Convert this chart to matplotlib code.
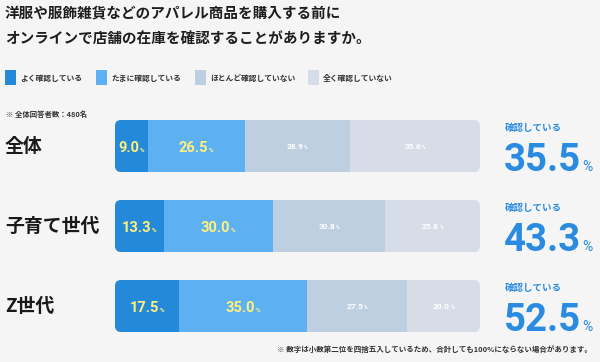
import matplotlib
matplotlib.use('Agg')
import matplotlib.pyplot as plt
from matplotlib.patches import FancyBboxPatch, Rectangle

# データ
groups = ['全体', '子育て世代', 'Z世代']
categories = ['よく確認している', 'たまに確認している', 'ほとんど確認していない', '全く確認していない']
often = [9.0, 13.3, 17.5]
sometimes = [26.5, 30.0, 35.0]
rarely = [28.9, 30.8, 27.5]
never = [35.6, 25.8, 20.0]
series = [often, sometimes, rarely, never]
colors = ['#2589da', '#5db1f3', '#bfcfe2', '#d6dde7']

title = '洋服や服飾雑貨などのアパレル商品を購入する前に\nオンラインで店舗の在庫を確認することがありますか。'
note_top = '※ 全体回答者数：480名'
note_bottom = '※ 数字は小数第二位を四捨五入しているため、合計しても100%にならない場合があります。'

W, H = 600, 362
BG = '#f5f5f5'
BLUE = '#2a8be0'
YELLOW = '#fdf07c'
JP = ['Noto Sans CJK JP', 'DejaVu Sans']
NUM = ['Roboto', 'Noto Sans CJK JP']

fig = plt.figure(figsize=(6, 3.62), dpi=100, facecolor=BG)
renderer = fig.canvas.get_renderer()


def px(x, y):
    return x / W, 1 - y / H


def text_width(s, **kw):
    t = fig.text(0, 0, s, **kw)
    w = t.get_window_extent(renderer).width
    t.remove()
    return w


# タイトル
fig.text(*px(5, 26), title, fontsize=10.5, fontweight='bold', family=JP,
         color='#1e1e1e', va='center', ha='left', linespacing=1.8)

# 凡例
leg_x = [5, 96, 195, 308]
for x, lab, c in zip(leg_x, categories, colors):
    fig.patches.append(Rectangle(px(x, 85), 11 / W, 15 / H, transform=fig.transFigure,
                                 facecolor=c, edgecolor='none'))
    fig.text(*px(x + 15, 78), lab, fontsize=5.6, fontweight='bold', family=JP,
             color='#333333', va='center', ha='left')

fig.text(*px(6, 114), note_top, fontsize=5.3, fontweight='bold', family=JP,
         color='#333333', va='center', ha='left')
fig.text(*px(592, 349), note_bottom, fontsize=5.4, fontweight='bold', family=JP,
         color='#333333', va='center', ha='right')

# 棒グラフ
ax = fig.add_axes([115 / W, (H - 346) / H, 365 / W, 240 / H])
ax.set_xlim(0, 100)
ax.set_ylim(2.5, -0.5)
ax.axis('off')
ax.patch.set_alpha(0)

bar_h = 0.65
ux = 100 / 365  # x単位/px
uy = 1 / 80     # y単位/px
clips = []
for i in range(len(groups)):
    p = FancyBboxPatch((0, i - bar_h / 2), 100, bar_h,
                       boxstyle='round,pad=0,rounding_size=%.3f' % (6 * ux),
                       mutation_aspect=uy / ux, transform=ax.transData,
                       facecolor='none', edgecolor='none')
    ax.add_patch(p)
    clips.append(p)

lefts = [0.0] * len(groups)
for k, (vals, c) in enumerate(zip(series, colors)):
    bars = ax.barh(range(len(groups)), vals, left=lefts, height=bar_h,
                   color=c, linewidth=0)
    for i, b in enumerate(bars):
        b.set_clip_path(clips[i])
        cx = lefts[i] + vals[i] / 2
        if k < 2:
            nsize, psize, col, cap = 10.5, 4.5, YELLOW, 12
        else:
            nsize, psize, col, cap = 6, 3.5, 'white', 6
        num = '%.1f' % vals[i]
        wn = text_width(num, fontsize=nsize, fontweight='bold', family=NUM)
        wp = text_width('%', fontsize=psize, fontweight='bold', family=NUM)
        total = wn + wp + 0.5
        ax.annotate(num, xy=(cx, i), xytext=(-total / 2, -cap / 2), textcoords='offset pixels',
                    fontsize=nsize, fontweight='bold', family=NUM, color=col,
                    ha='left', va='baseline')
        ax.annotate('%', xy=(cx, i), xytext=(-total / 2 + wn + 0.5, -cap / 2),
                    textcoords='offset pixels', fontsize=psize, fontweight='bold',
                    family=NUM, color=col, ha='left', va='baseline')
    lefts = [l + v for l, v in zip(lefts, vals)]

# 行ラベルと右側の合計
row_y = [146, 226, 306]
for i, g in enumerate(groups):
    fig.text(*px(5, row_y[i] + 0.5), g, fontsize=13.6, fontweight='bold', family=JP,
             color='#1a1a1a', va='center', ha='left')
    fig.text(*px(505, row_y[i] - 18), '確認している', fontsize=6.8, fontweight='bold',
             family=JP, color=BLUE, va='center', ha='left')
    big = '%.1f' % (often[i] + sometimes[i])
    t = fig.text(*px(504, row_y[i] + 25), big, fontsize=27.5, fontweight='bold',
                 family=NUM, color=BLUE, va='baseline', ha='left')
    wb = t.get_window_extent(renderer).width
    fig.text(*px(504 + wb + 1, row_y[i] + 25), '%', fontsize=10, family=NUM,
             color=BLUE, va='baseline', ha='left')

fig.savefig('out.png', dpi=100, facecolor=BG)
